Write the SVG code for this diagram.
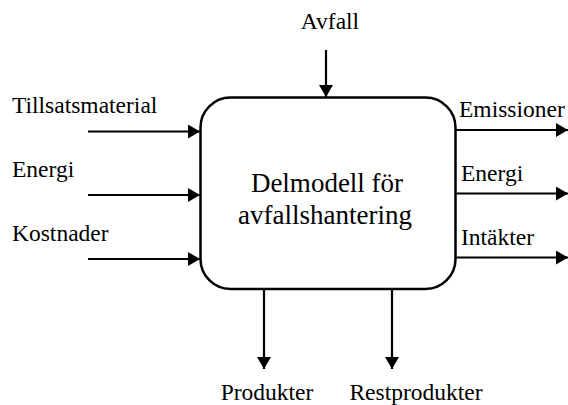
<svg xmlns="http://www.w3.org/2000/svg" width="568" height="405" viewBox="0 0 568 405">
<defs>
<marker id="ah" markerUnits="userSpaceOnUse" markerWidth="12" markerHeight="14" refX="12" refY="7" orient="auto">
<path d="M0,0 L12,7 L0,14 z" fill="#000"/>
</marker>
</defs>
<g id="connectors" stroke="#000" stroke-width="2.2" fill="none" marker-end="url(#ah)">
<line x1="326" y1="50" x2="326" y2="97"/>
<line x1="88" y1="131.5" x2="200" y2="131.5"/>
<line x1="88" y1="195" x2="200" y2="195"/>
<line x1="88" y1="259" x2="200" y2="259"/>
<line x1="456" y1="130" x2="568" y2="130"/>
<line x1="456" y1="193.5" x2="568" y2="193.5"/>
<line x1="456" y1="257.5" x2="568" y2="257.5"/>
<line x1="264" y1="289" x2="264" y2="369"/>
<line x1="392" y1="289" x2="392" y2="369"/>
</g>
<g id="box">
<rect x="200.5" y="97.5" width="255" height="191.5" rx="30" ry="30" fill="#fff" stroke="#000" stroke-width="2.5"/>
<text font-family="'Liberation Serif', serif" font-size="27" text-anchor="middle" x="327" y="192">Delmodell f&#246;r</text>
<text font-family="'Liberation Serif', serif" font-size="27" text-anchor="middle" x="325" y="224">avfallshantering</text>
</g>
<g id="labels" font-family="'Liberation Serif', serif" font-size="23.5" fill="#000">
<text text-anchor="middle" x="330" y="29">Avfall</text>
<text x="12" y="113">Tillsatsmaterial</text>
<text x="12" y="177">Energi</text>
<text x="12" y="241">Kostnader</text>
<text x="459" y="117">Emissioner</text>
<text x="461" y="181">Energi</text>
<text x="461" y="245">Int&#228;kter</text>
<text text-anchor="middle" x="267" y="400">Produkter</text>
<text text-anchor="middle" x="416" y="400">Restprodukter</text>
</g>
</svg>
